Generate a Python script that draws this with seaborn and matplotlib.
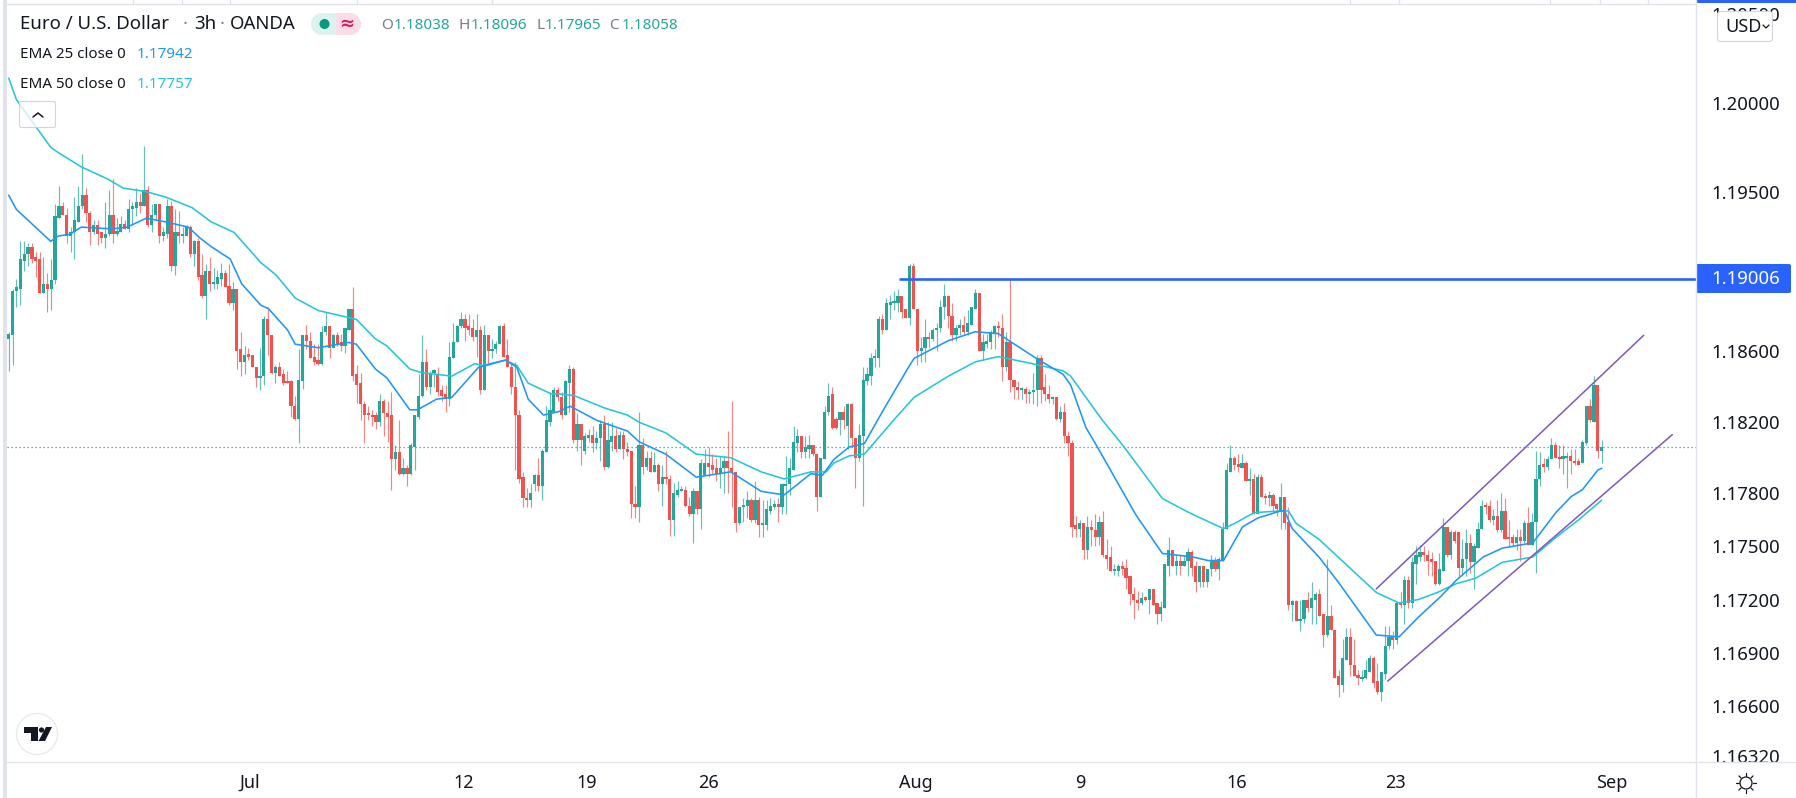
#!/usr/bin/env python3
"""EUR/USD 3h candles with two EMAs, an ascending channel and the 1.19006 level."""

import matplotlib
matplotlib.use("Agg")
import matplotlib.pyplot as plt
from matplotlib.patches import Circle, FancyBboxPatch, Polygon, Rectangle
import numpy as np
import pandas as pd
import seaborn as sns

# candle values, in 1/10000 of a dollar
OPEN = [
    11867,11869,11894,11895,11911,11915,11919,11913,11912,11893,
    11898,11895,11900,11935,11942,11937,11925,11927,11933,11942,
    11948,11938,11927,11931,11927,11924,11926,11937,11926,11927,
    11932,11929,11940,11941,11944,11942,11951,11931,11937,11943,
    11925,11926,11942,11908,11927,11925,11925,11930,11915,11922,
    11903,11891,11905,11898,11898,11901,11904,11897,11887,11895,
    11861,11854,11858,11858,11851,11845,11846,11878,11869,11848,11851,11847,
    11843,11843,11829,11822,11843,11869,11866,11857,11855,11853,
    11871,11874,11862,11869,11865,11863,11872,11884,11847,11842,
    11830,11825,11824,11824,11820,11832,11825,11824,11799,11803,
    11791,11794,11791,11806,11823,11835,11854,11840,11848,11847,
    11838,11836,11833,11856,11865,11874,11878,11874,11873,11868,
    11872,11838,11869,11860,11861,11864,11874,11858,11851,11840,
    11824,11789,11777,11776,11785,11790,11784,11803,11820,11826,
    11838,11834,11824,11842,11850,11810,11819,11804,11811,11813,
    11808,11811,11819,11795,11809,11812,11805,11813,11805,11804,
    11774,11772,11807,11795,11800,11792,11796,11785,11789,11788,
    11765,11779,11781,11782,11773,11768,11781,11771,11790,11797,
    11796,11794,11791,11794,11798,11794,11792,11763,11772,11773,
    11776,11765,11776,11762,11762,11770,11772,11774,11772,11784,
    11785,11793,11808,11812,11803,11805,11807,11802,11778,11799,
    11826,11836,11822,11821,11826,11818,11830,11811,11800,11812,
    11843,11846,11856,11856,11878,11872,11886,11887,11887,11891,
    11884,11879,11908,11884,11860,11862,11868,11867,11872,11873,
    11885,11891,11880,11869,11873,11875,11871,11875,11884,11893,
    11860,11864,11865,11870,11874,11873,11851,11865,11844,11840,
    11838,11839,11836,11837,11838,11856,11840,11836,11833,11834,
    11822,11826,11812,11808,11762,11760,11763,11748,11761,11759,
    11755,11764,11745,11744,11736,11736,11739,11738,11733,11723,
    11720,11718,11721,11720,11726,11718,11712,11715,11739,11748,
    11739,11742,11739,11742,11747,11739,11730,11739,11730,11737,
    11742,11737,11742,11760,11792,11800,11796,11794,11797,11787,
    11788,11768,11789,11778,11777,11779,11774,11770,11778,11764,
    11717,11719,11708,11709,11720,11715,11720,11723,11712,11700,
    11711,11703,11677,11672,11686,11699,11683,11677,11675,11676,
    11679,11687,11674,11668,11678,11694,11699,11697,11718,11717,
    11731,11718,11740,11744,11747,11745,11743,11742,11729,11736,
    11761,11745,11758,11758,11738,11743,11752,11741,11749,11760,
    11773,11773,11765,11767,11759,11770,11755,11755,11752,11755,
    11753,11763,11751,11764,11788,11796,11795,11799,11807,11800,
    11799,11800,11801,11798,11798,11797,11808,11829,11820,
    11841,11804,
]
HIGH = [
    11871,11895,11901,11922,11922,11921,11921,11916,11916,11913,
    11904,11912,11943,11953,11944,11941,11930,11947,11953,11971,
    11952,11939,11934,11934,11927,11944,11951,11957,11935,11936,
    11934,11946,11944,11952,11949,11976,11953,11943,11943,11943,
    11930,11946,11945,11940,11939,11930,11931,11931,11923,11924,
    11915,11909,11913,11907,11906,11910,11906,11909,11899,11895,
    11871,11863,11862,11858,11851,11862,11880,11885,11869,11852,11854,11850,
    11849,11844,11835,11861,11869,11875,11871,11864,11864,11874,
    11882,11874,11870,11871,11870,11873,11884,11896,11852,11848,
    11832,11829,11827,11826,11836,11833,11832,11837,11807,11821,
    11800,11796,11808,11824,11847,11869,11861,11849,11850,11851,
    11841,11841,11865,11876,11875,11882,11881,11881,11878,11881,
    11874,11875,11869,11867,11866,11875,11876,11867,11853,11854,
    11827,11792,11783,11785,11791,11800,11805,11829,11837,11840,
    11840,11837,11844,11852,11851,11825,11819,11814,11816,11818,
    11815,11821,11824,11820,11820,11817,11815,11815,11809,11804,
    11784,11826,11811,11804,11804,11803,11797,11796,11804,11790,
    11786,11787,11784,11784,11778,11783,11781,11799,11805,11806,
    11802,11800,11801,11801,11815,11832,11792,11772,11777,11781,
    11777,11787,11778,11776,11776,11777,11776,11777,11786,11801,
    11800,11818,11816,11812,11812,11813,11807,11802,11800,11829,
    11842,11840,11823,11826,11829,11831,11831,11811,11819,11851,
    11851,11859,11861,11880,11881,11890,11892,11894,11895,11891,
    11884,11909,11910,11884,11868,11878,11871,11873,11876,11889,
    11898,11892,11887,11875,11878,11880,11883,11885,11895,11893,
    11870,11870,11872,11875,11877,11881,11871,11901,11844,11843,
    11840,11840,11839,11848,11858,11858,11847,11841,11835,11834,
    11829,11831,11815,11810,11767,11765,11763,11767,11765,11768,
    11767,11770,11754,11750,11740,11740,11742,11743,11733,11727,
    11725,11724,11722,11726,11726,11718,11719,11740,11755,11748,
    11745,11745,11745,11749,11748,11742,11739,11739,11737,11745,
    11744,11744,11764,11797,11807,11801,11802,11802,11798,11794,
    11791,11791,11791,11780,11781,11780,11774,11786,11778,11772,
    11720,11720,11720,11720,11724,11730,11724,11726,11712,11743,
    11717,11703,11680,11698,11704,11704,11698,11680,11680,11686,
    11689,11688,11684,11679,11705,11705,11702,11719,11724,11733,
    11733,11744,11750,11751,11750,11748,11747,11742,11746,11766,
    11761,11759,11759,11758,11754,11760,11757,11752,11764,11776,
    11775,11776,11771,11776,11780,11777,11765,11757,11760,11760,
    11765,11772,11769,11804,11803,11800,11801,11811,11809,11807,
    11807,11803,11805,11805,11800,11810,11829,11833,11846,
    11841,11810,
]
LOW = [
    11849,11852,11885,11886,11905,11908,11910,11902,11893,11893,
    11882,11883,11898,11935,11937,11921,11916,11912,11933,11940,
    11933,11920,11926,11920,11921,11918,11925,11921,11925,11927,
    11929,11927,11932,11936,11938,11942,11930,11927,11934,11921,
    11922,11924,11905,11903,11921,11921,11925,11913,11908,11900,
    11890,11878,11894,11895,11895,11897,11896,11886,11883,11850,
    11846,11847,11855,11851,11840,11838,11841,11858,11847,11842,11846,11841,
    11842,11823,11821,11808,11839,11861,11856,11852,11852,11852,
    11869,11856,11862,11863,11860,11859,11872,11843,11831,11821,
    11808,11821,11818,11816,11818,11812,11809,11782,11793,11790,
    11790,11784,11790,11793,11822,11834,11838,11836,11840,11835,
    11832,11826,11829,11856,11865,11873,11866,11869,11866,11857,
    11836,11838,11852,11856,11859,11864,11857,11851,11836,11793,
    11786,11772,11772,11772,11781,11781,11776,11803,11818,11826,
    11832,11822,11824,11826,11808,11804,11796,11802,11809,11803,
    11805,11798,11793,11794,11804,11803,11805,11799,11801,11766,
    11766,11764,11791,11793,11792,11792,11781,11773,11785,11756,
    11756,11778,11781,11772,11767,11752,11768,11760,11790,11789,
    11791,11787,11783,11780,11780,11772,11758,11762,11764,11766,
    11764,11763,11755,11755,11759,11768,11771,11764,11768,11768,
    11779,11793,11803,11800,11800,11800,11801,11770,11778,11799,
    11824,11816,11816,11813,11816,11805,11806,11783,11798,11773,
    11841,11841,11851,11851,11870,11872,11878,11883,11882,11879,
    11879,11875,11884,11852,11854,11854,11862,11866,11860,11871,
    11878,11873,11866,11866,11869,11870,11869,11875,11884,11860,
    11855,11862,11861,11861,11868,11843,11849,11837,11833,11833,
    11833,11831,11831,11830,11829,11831,11832,11831,11830,11821,
    11820,11808,11801,11755,11755,11755,11743,11743,11750,11750,
    11751,11744,11737,11736,11734,11733,11734,11726,11717,11709,
    11714,11717,11719,11712,11717,11706,11708,11715,11733,11739,
    11734,11734,11739,11733,11733,11724,11727,11727,11727,11733,
    11736,11731,11742,11760,11792,11793,11792,11794,11787,11779,
    11768,11768,11778,11774,11773,11770,11767,11760,11760,11714,
    11708,11708,11702,11707,11713,11706,11706,11711,11693,11699,
    11703,11676,11665,11668,11686,11677,11677,11672,11674,11675,
    11679,11670,11667,11663,11675,11692,11692,11695,11715,11706,
    11715,11715,11729,11742,11742,11734,11733,11728,11728,11736,
    11744,11743,11752,11733,11734,11733,11735,11726,11749,11760,
    11768,11764,11762,11758,11758,11754,11750,11750,11748,11742,
    11752,11751,11751,11735,11784,11792,11793,11799,11800,11794,
    11791,11783,11791,11796,11796,11797,11807,11820,11820,
    11800,11797,
]
CLOSE = [
    11870,11894,11896,11912,11915,11919,11912,11911,11893,11898,
    11895,11900,11936,11942,11937,11925,11927,11934,11942,11948,
    11938,11927,11931,11926,11924,11926,11937,11926,11928,11932,
    11929,11940,11942,11944,11942,11951,11931,11937,11943,11925,
    11927,11942,11908,11927,11925,11925,11930,11915,11922,11902,
    11891,11905,11898,11898,11902,11904,11896,11887,11895,11860,
    11854,11858,11857,11851,11845,11846,11878,11869,11848,11851,11846,11842,
    11842,11829,11822,11844,11869,11866,11856,11854,11853,11871,
    11874,11862,11869,11864,11863,11873,11884,11846,11841,11830,
    11824,11824,11823,11820,11832,11825,11823,11799,11803,11791,
    11794,11791,11807,11824,11835,11854,11840,11848,11848,11837,
    11835,11833,11857,11865,11874,11878,11873,11872,11868,11872,
    11838,11869,11860,11861,11864,11874,11857,11851,11840,11824,
    11788,11777,11776,11780,11790,11784,11804,11821,11827,11838,
    11834,11824,11843,11850,11810,11819,11810,11812,11813,11808,
    11811,11819,11795,11810,11812,11805,11813,11805,11803,11774,
    11772,11807,11795,11800,11792,11796,11785,11789,11788,11765,
    11780,11782,11782,11773,11768,11781,11771,11797,11797,11795,
    11793,11791,11794,11798,11794,11792,11763,11772,11773,11776,
    11765,11776,11762,11763,11771,11773,11774,11772,11785,11785,
    11794,11809,11812,11803,11806,11807,11802,11778,11800,11826,
    11835,11817,11817,11826,11821,11830,11811,11800,11813,11844,
    11847,11856,11857,11878,11872,11887,11888,11888,11891,11882,
    11879,11908,11884,11860,11862,11868,11867,11872,11873,11885,
    11891,11880,11869,11873,11875,11871,11876,11885,11893,11860,
    11865,11866,11871,11874,11873,11851,11865,11844,11840,11838,
    11839,11836,11837,11838,11856,11838,11836,11833,11834,11822,
    11826,11812,11808,11761,11760,11763,11748,11761,11759,11755,
    11764,11745,11743,11736,11737,11739,11737,11732,11723,11720,
    11718,11721,11720,11726,11717,11712,11716,11740,11748,11739,
    11742,11739,11742,11747,11738,11730,11739,11730,11737,11742,
    11737,11743,11760,11793,11800,11796,11795,11797,11787,11788,
    11768,11789,11778,11777,11779,11773,11771,11778,11763,11717,
    11719,11708,11709,11720,11715,11721,11723,11711,11700,11711,
    11703,11676,11672,11687,11699,11683,11677,11676,11676,11680,
    11687,11673,11668,11679,11694,11699,11697,11718,11717,11731,
    11718,11741,11745,11747,11745,11742,11741,11729,11737,11761,
    11745,11758,11753,11738,11743,11752,11741,11750,11760,11773,
    11772,11765,11767,11759,11770,11754,11754,11752,11755,11753,
    11763,11751,11764,11788,11796,11795,11799,11807,11800,11799,
    11801,11801,11798,11797,11796,11809,11829,11821,11841,
    11804,11806,
]

# EMA lines read at these bar slots
EMA25_X = [0,2,6,11,13,16,19,27,31,36,41,47,50,53,58,61,66,68,73,75,81,89,91,96,99,105,107,112,116,123,125,130,133,136,140,144,147,154,162,165,172,180,189,197,203,210,213,216,220,224,229,235,237,246,253,259,269,276,278,282,285,295,302,310,314,318,323,327,333,334,336,343,348,351,358,364,369,375,379,386,391,399,405,409,412,416,417]
EMA25_Y = [11948,11940,11932,11922,11925,11926,11930,11929,11930,11935,11933,11930,11924,11919,11912,11898,11886,11884,11872,11864,11862,11865,11864,11850,11845,11827,11827,11833,11834,11851,11852,11855,11851,11833,11824,11826,11829,11821,11815,11809,11802,11789,11792,11781,11779,11791,11790,11799,11806,11808,11827,11849,11856,11866,11871,11870,11856,11847,11841,11817,11806,11768,11746,11744,11742,11742,11761,11766,11770,11770,11760,11744,11730,11721,11700,11699,11710,11722,11731,11744,11749,11752,11769,11778,11782,11793,11794]
EMA50_X = [0,2,6,11,13,19,26,30,36,41,48,53,59,66,70,75,81,89,91,96,99,105,108,116,122,124,130,133,136,142,144,148,156,162,165,172,180,189,197,203,210,214,216,220,224,232,237,246,253,259,268,276,278,286,292,302,309,318,321,326,333,335,337,343,351,358,364,369,374,379,384,391,399,405,411,417]
EMA50_Y = [12014,12002,11990,11975,11972,11964,11957,11952,11950,11947,11941,11933,11927,11910,11903,11890,11883,11879,11878,11867,11863,11850,11848,11846,11853,11852,11855,11852,11842,11836,11836,11835,11828,11824,11820,11814,11802,11800,11792,11788,11792,11792,11797,11801,11802,11822,11834,11846,11854,11857,11853,11849,11846,11822,11806,11777,11769,11760,11763,11769,11770,11770,11763,11754,11738,11724,11718,11720,11724,11729,11732,11741,11744,11755,11765,11776]

# channel lines and levels
UPPER_X = [358, 428]
UPPER_Y = [1.1726, 1.1869]
LOWER_X = [361, 435.5]
LOWER_Y = [1.1674, 1.1813]
LEVEL = 1.19006
LEVEL_START = 233
LAST_PRICE = 1.18058

Y_TICKS = [1.205, 1.2, 1.195, 1.186, 1.182, 1.178, 1.175, 1.172, 1.169, 1.166, 1.1632]
X_TICKS = [63.2, 119, 151.4, 183.3, 237.5, 280.5, 321.6, 363, 419.7]
X_LABELS = ["Jul", "12", "19", "26", "Aug", "9", "16", "23", "Sep"]

UP = "#26A69A"
DOWN = "#EF5350"
INK = "#131722"
GREY = "#787B86"
LINE = "#E0E3EB"
BLUE = "#2962FF"

W, H = 1796, 798

sns.set_theme(style="white")
plt.rcParams["font.family"] = ["Noto Sans", "DejaVu Sans"]

fig = plt.figure(figsize=(W / 100, H / 100), dpi=100, facecolor="white")
ax = fig.add_axes([7 / W, (H - 762) / H, (1696 - 7) / W, (762 - 3.5) / H])

df = pd.DataFrame({"open": OPEN, "high": HIGH, "low": LOW, "close": CLOSE}) / 10000
df["x"] = np.linspace(0, 417, len(df))
df["color"] = np.where(df["close"] >= df["open"], UP, DOWN)

ax.axhline(LAST_PRICE, color=UP, lw=0.9, ls=(0, (1, 2.2)), zorder=1)
ax.vlines(df["x"], df["low"], df["high"], colors=df["color"], lw=0.85, alpha=0.7, zorder=2)
ax.bar(df["x"], (df["close"] - df["open"]).abs().clip(lower=0.00012),
       bottom=df[["open", "close"]].min(axis=1), width=0.84, color=df["color"],
       linewidth=0, zorder=2.5)

sns.lineplot(x=EMA50_X, y=np.array(EMA50_Y) / 10000, ax=ax, color="#26C6DA", lw=1.15,
             errorbar=None, zorder=3)
sns.lineplot(x=EMA25_X, y=np.array(EMA25_Y) / 10000, ax=ax, color="#2196F3", lw=1.15,
             errorbar=None, zorder=3)
sns.lineplot(x=UPPER_X, y=UPPER_Y, ax=ax, color="#7E57C2", lw=1.1, errorbar=None, zorder=3)
sns.lineplot(x=LOWER_X, y=LOWER_Y, ax=ax, color="#7E57C2", lw=1.1, errorbar=None, zorder=3)
ax.plot([LEVEL_START, 500], [LEVEL, LEVEL], color=BLUE, lw=1.9, zorder=3.5, solid_capstyle="butt")

ax.set_xlim((7 - 8.7) / 3.82, (1696 - 8.7) / 3.82)
ax.set_ylim(1.16284, 1.20561)
ax.set_xlabel("")
ax.set_ylabel("")
ax.set_xticks(X_TICKS, X_LABELS)
ax.set_yticks(Y_TICKS, [f"{t:.5f}" for t in Y_TICKS])
ax.yaxis.tick_right()
ax.tick_params(axis="x", length=0, pad=8.5, labelsize=13, labelcolor=INK)
ax.tick_params(axis="y", length=0, pad=11, labelsize=13.4, labelcolor=INK)
sns.despine(ax=ax, left=True, bottom=True, right=True, top=True)

# ── Chrome around the plot, in pixel coordinates ──
ui = fig.add_axes([0, 0, 1, 1], zorder=5)
ui.set_xlim(0, W)
ui.set_ylim(H, 0)
ui.axis("off")
ui.patch.set_alpha(0)

# tick labels are clipped at the panel edges
ui.add_patch(Rectangle((1697, 761.5), 99, 37, fc="white", ec="none"))
ui.add_patch(Rectangle((1697, 0), 99, 3.5, fc="white", ec="none"))
ui.add_patch(Rectangle((1696, 0), 100, 3, fc=BLUE, ec="none"))

ui.add_patch(Rectangle((3.3, 0), 4, H, fc=LINE, ec="none"))
ui.plot([7, W], [762, 762], color=LINE, lw=1)
ui.plot([7, 1696], [3.5, 3.5], color=LINE, lw=1)
ui.plot([1696, 1696], [0, H], color=LINE, lw=1)
for tx in [133, 182, 230, 357, 492, 1350, 1399, 1550, 1600, 1648]:
    ui.plot([tx, tx], [0, 3.5], color=LINE, lw=1)

ui.text(20, 24, "Euro / U.S. Dollar", fontsize=13.4, color=INK, va="center")
ui.text(185, 24, "·", fontsize=13.4, color=GREY, va="center", ha="center")
ui.text(194, 24, "3h", fontsize=13.4, color=INK, va="center")
ui.text(222, 24, "·", fontsize=13.4, color=GREY, va="center", ha="center")
ui.text(230, 24, "OANDA", fontsize=13.4, color=INK, va="center")

# market status pill
ui.add_patch(Rectangle((322, 13), 14, 22, fc="#DDF2EE", ec="none"))
ui.add_patch(Circle((322, 24), 11, fc="#DDF2EE", ec="none"))
ui.add_patch(Rectangle((336, 13), 14, 22, fc="#FBDDE6", ec="none"))
ui.add_patch(Circle((350, 24), 11, fc="#FBDDE6", ec="none"))
ui.add_patch(Circle((324.5, 24), 5, fc="#089981", ec="none"))
ui.text(347, 23.5, "≈", fontsize=13, color="#D81B60", va="center", ha="center", weight="bold")

for price, tx, lbl in [("1.18038", 394, "O"), ("1.18096", 471, "H"), ("1.17965", 545, "L"), ("1.18058", 622, "C")]:
    ui.text(tx - 13 if lbl != "L" else tx - 9, 25.5, lbl, fontsize=11, color=GREY, va="center")
    ui.text(tx, 25.5, price, fontsize=11, color=UP, va="center")

ui.text(20, 54, "EMA 25 close 0", fontsize=10.9, color=INK, va="center")
ui.text(137, 54, "1.17942", fontsize=11, color="#2196F3", va="center")
ui.text(20, 84, "EMA 50 close 0", fontsize=10.9, color=INK, va="center")
ui.text(137, 84, "1.17757", fontsize=11, color="#26C6DA", va="center")

# collapse button
ui.add_patch(FancyBboxPatch((19.5, 101.5), 36, 26, boxstyle="round,pad=0,rounding_size=2",
                            fc=(1, 1, 1, 0.75), ec="#D1D4DC", lw=0.8))
ui.plot([33, 38, 43], [117, 113, 117], color=INK, lw=1.1)

# currency selector
ui.add_patch(FancyBboxPatch((1717.5, 11.5), 55, 30, boxstyle="round,pad=0,rounding_size=3",
                            fc="white", ec="#D1D4DC", lw=0.8))
ui.text(1725, 26.5, "USD", fontsize=13, color=INK, va="center")
ui.plot([1763, 1766, 1769], [25, 28, 25], color=INK, lw=0.9)

# price label of the horizontal level
ui.add_patch(FancyBboxPatch((1696, 264), 95, 29, boxstyle="round,pad=0,rounding_size=2",
                            fc=BLUE, ec="none"))
ui.text(1711.5, 278.5, f"{LEVEL:.5f}", fontsize=13.4, color="white", va="center")

# TradingView badge
ui.add_patch(Circle((37, 734), 20.5, fc="white", ec="#E9EAEE", lw=1))
ui.add_patch(Polygon([(24, 727), (38, 727), (38, 741), (31, 741), (31, 733), (24, 733)], fc=INK, ec="none"))
ui.add_patch(Circle((41.5, 730), 2.6, fc=INK, ec="none"))
ui.add_patch(Polygon([(46, 727), (52, 727), (45, 741), (38.5, 741)], fc=INK, ec="none"))

# settings sun icon
ui.add_patch(Circle((1746, 783), 6, fc="white", ec=INK, lw=0.9))
for a in np.arange(0, 2 * np.pi, np.pi / 4):
    ui.plot([1746 + 7 * np.cos(a), 1746 + 10 * np.cos(a)],
            [783 + 7 * np.sin(a), 783 + 10 * np.sin(a)], color=INK, lw=0.9)

fig.savefig("out.png", dpi=100, facecolor="white")
